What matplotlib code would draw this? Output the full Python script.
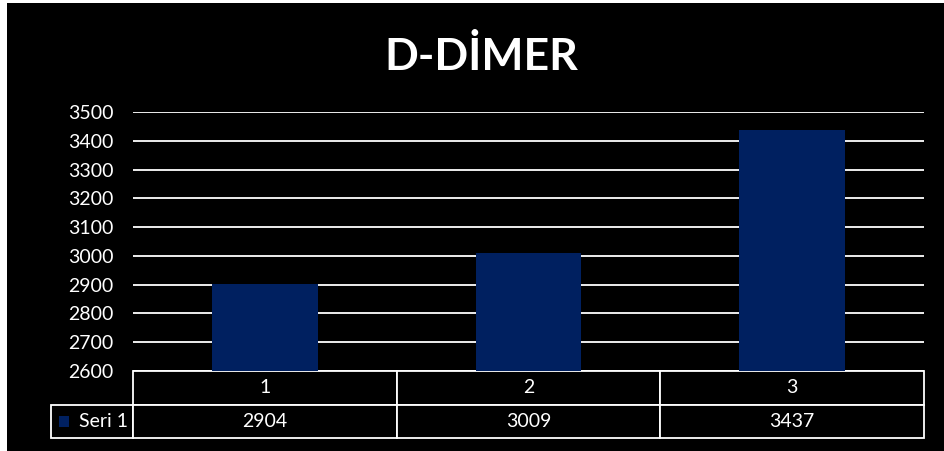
import matplotlib.pyplot as plt
from matplotlib.patches import Rectangle

categories = ['1', '2', '3']
values = [2904, 3009, 3437]
series_name = 'Seri 1'
title = 'D-DİMER'
yticks = [2600, 2700, 2800, 2900, 3000, 3100, 3200, 3300, 3400, 3500]

W, H = 944, 451
navy = '#002060'
plt.rcParams['font.family'] = ['Lato', 'DejaVu Sans']

fig = plt.figure(figsize=(W / 100, H / 100), dpi=100, facecolor='white')
# black slide background, leaving a thin white strip top/left like the reference
fig.patches.append(Rectangle((7 / W, 0), 1, 1 - 3 / H, transform=fig.transFigure,
                             facecolor='black', edgecolor='none', zorder=-10))

ax_l, ax_r, ax_t, ax_b = 133, 924, 112, 371
ax = fig.add_axes([ax_l / W, 1 - ax_b / H, (ax_r - ax_l) / W, (ax_b - ax_t) / H])
ax.set_facecolor('black')

x = range(len(categories))
ax.bar(x, values, width=0.4, color=navy, zorder=3)
ax.set_xlim(-0.5, len(categories) - 0.5)
ax.set_ylim(2600, 3500)
ax.set_yticks(yticks)
ax.yaxis.grid(True, color='white', linewidth=1.3, zorder=1)
ax.tick_params(axis='y', length=0, colors='white', labelsize=14, pad=14)
ax.tick_params(axis='x', length=0, labelbottom=False)
for s in ax.spines.values():
    s.set_visible(False)

# data table under the axis (bbox covers the data cells; the label column hangs left)
plot_w = ax_r - ax_l
lab_w = 82
table_h = 438 - ax_b
n = len(categories)
tbl = ax.table(cellText=[[str(v) for v in values]], colLabels=categories,
               cellLoc='center', colWidths=[1 / n] * n,
               bbox=[0, -table_h / (ax_b - ax_t), 1, table_h / (ax_b - ax_t)])
hgt = tbl[(1, 0)].get_height()
lab = tbl.add_cell(1, -1, width=lab_w / plot_w, height=hgt, text=series_name, loc='right')
lab.PAD = 0.06
tbl.auto_set_font_size(False)
tbl.set_fontsize(14)
for (r, c), cell in tbl.get_celld().items():
    cell.set_edgecolor('white')
    cell.set_facecolor('black')
    cell.set_linewidth(1.3)
    cell.get_text().set_color('white')

# legend key square in the row label cell
fig.patches.append(Rectangle((59 / W, 1 - 427 / H), 10 / W, 11 / H,
                             transform=fig.transFigure, facecolor=navy,
                             edgecolor='none', zorder=5))

fig.text(481 / W, 1 - 57 / H, title, color='white', fontsize=32, fontweight='bold',
         ha='center', va='center')

fig.savefig('out.png', dpi=100, facecolor=fig.get_facecolor())
